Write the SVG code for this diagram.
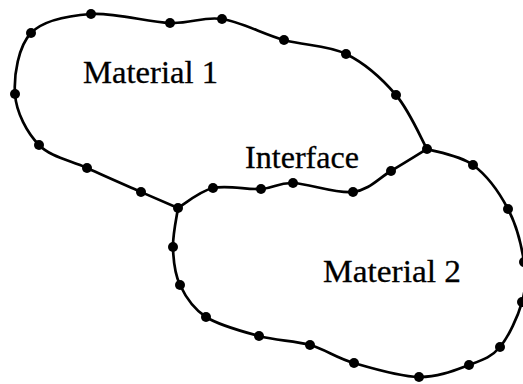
<svg xmlns="http://www.w3.org/2000/svg" width="523" height="384" viewBox="0 0 523 384">
<style>
.edge{fill:none;stroke:#000;stroke-width:2.7;stroke-linejoin:round;stroke-linecap:round}
.node{fill:#000}
.lbl{font-family:"Liberation Serif","DejaVu Serif",serif;font-size:32px;fill:#000;stroke:#000;stroke-width:0.3}
</style>
<rect width="523" height="384" fill="#fff"/>
<g id="connectors">
<path id="boundary1" class="edge" d="M178,208 C171.8,205.3 156.2,198.7 141,192 C125.8,185.3 104,175.8 87,168 C70,160.2 51,157.3 39,145 C27,132.7 16.3,112.7 15,94 C13.7,75.3 18.3,46.3 31,33 C43.7,19.7 67.8,15.7 91,14 C114.2,12.3 148.2,22.2 170,23 C191.8,23.8 203,16.2 222,19 C241,21.8 263.3,34.2 284,40 C304.7,45.8 327.3,44.8 346,54 C364.7,63.2 382.5,79.2 396,95 C409.5,110.8 421.8,140 427,149"/>
<path id="interface" class="edge" d="M178,208 C183.8,204.7 199.2,191.2 213,188 C226.8,184.8 247.7,189.8 261,189 C274.3,188.2 277.7,182.5 293,183 C308.3,183.5 336.7,194 353,192 C369.3,190 378.7,178.2 391,171 C403.3,163.8 421,152.7 427,149"/>
<path id="boundary2" class="edge" d="M427,149 C434.7,151.7 459.5,155 473,165 C486.5,175 499.5,192.8 508,209 C516.5,225.2 521.7,246.5 524,262 C526.3,277.5 526,287.8 522,302 C518,316.2 508.8,336.5 500,347 C491.2,357.5 482.5,360 469,365 C455.5,370 438.2,377.3 419,377 C399.8,376.7 372.2,368.3 354,363 C335.8,357.7 325.8,349.5 310,345 C294.2,340.5 276.3,340.7 259,336 C241.7,331.3 219.2,325.5 206,317 C192.8,308.5 185.5,296.7 180,285 C174.5,273.3 173.3,259.8 173,247 C172.7,234.2 177.2,214.5 178,208"/>
</g>
<g id="nodes">
<g id="n-j1"><circle class="node" cx="178" cy="208" r="5"/></g>
<g id="n-j2"><circle class="node" cx="427" cy="149" r="5"/></g>
<g id="n-m1">
<circle class="node" cx="141" cy="192" r="5"/>
<circle class="node" cx="87" cy="168" r="5"/>
<circle class="node" cx="39" cy="145" r="5"/>
<circle class="node" cx="15" cy="94" r="5"/>
<circle class="node" cx="31" cy="33" r="5"/>
<circle class="node" cx="91" cy="14" r="5"/>
<circle class="node" cx="170" cy="23" r="5"/>
<circle class="node" cx="222" cy="19" r="5"/>
<circle class="node" cx="284" cy="40" r="5"/>
<circle class="node" cx="346" cy="54" r="5"/>
<circle class="node" cx="396" cy="95" r="5"/>
</g>
<g id="n-if">
<circle class="node" cx="213" cy="188" r="5"/>
<circle class="node" cx="261" cy="189" r="5"/>
<circle class="node" cx="293" cy="183" r="5"/>
<circle class="node" cx="353" cy="192" r="5"/>
<circle class="node" cx="391" cy="171" r="5"/>
</g>
<g id="n-m2">
<circle class="node" cx="473" cy="165" r="5"/>
<circle class="node" cx="508" cy="209" r="5"/>
<circle class="node" cx="524" cy="262" r="5"/>
<circle class="node" cx="522" cy="302" r="5"/>
<circle class="node" cx="500" cy="347" r="5"/>
<circle class="node" cx="469" cy="365" r="5"/>
<circle class="node" cx="419" cy="377" r="5"/>
<circle class="node" cx="354" cy="363" r="5"/>
<circle class="node" cx="310" cy="345" r="5"/>
<circle class="node" cx="259" cy="336" r="5"/>
<circle class="node" cx="206" cy="317" r="5"/>
<circle class="node" cx="180" cy="285" r="5"/>
<circle class="node" cx="173" cy="247" r="5"/>
</g>
</g>
<g id="labels">
<text class="lbl" x="83" y="83" textLength="135" lengthAdjust="spacingAndGlyphs">Material 1</text>
<text class="lbl" x="245" y="168" textLength="114" lengthAdjust="spacingAndGlyphs">Interface</text>
<text class="lbl" x="323" y="282" textLength="138" lengthAdjust="spacingAndGlyphs">Material 2</text>
</g>
</svg>
